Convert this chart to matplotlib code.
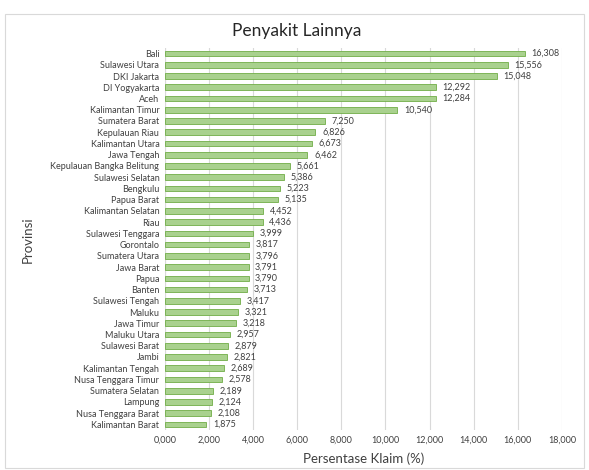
import matplotlib.pyplot as plt
from matplotlib.patches import Rectangle

plt.rcParams['font.family'] = ['Lato', 'DejaVu Sans']

provinsi = ['Bali', 'Sulawesi Utara', 'DKI Jakarta', 'DI Yogyakarta', 'Aceh',
            'Kalimantan Timur', 'Sumatera Barat', 'Kepulauan Riau', 'Kalimantan Utara',
            'Jawa Tengah', 'Kepulauan Bangka Belitung', 'Sulawesi Selatan', 'Bengkulu',
            'Papua Barat', 'Kalimantan Selatan', 'Riau', 'Sulawesi Tenggara', 'Gorontalo',
            'Sumatera Utara', 'Jawa Barat', 'Papua', 'Banten', 'Sulawesi Tengah', 'Maluku',
            'Jawa Timur', 'Maluku Utara', 'Sulawesi Barat', 'Jambi', 'Kalimantan Tengah',
            'Nusa Tenggara Timur', 'Sumatera Selatan', 'Lampung', 'Nusa Tenggara Barat',
            'Kalimantan Barat']
klaim = [16.308, 15.556, 15.048, 12.292, 12.284, 10.540, 7.250, 6.826, 6.673, 6.462,
         5.661, 5.386, 5.223, 5.135, 4.452, 4.436, 3.999, 3.817, 3.796, 3.791, 3.790,
         3.713, 3.417, 3.321, 3.218, 2.957, 2.879, 2.821, 2.689, 2.578, 2.189, 2.124,
         2.108, 1.875]
x_ticks = [0, 2, 4, 6, 8, 10, 12, 14, 16, 18]


def koma(v):
    return '{:.3f}'.format(v).replace('.', ',')


fig = plt.figure(figsize=(5.89, 4.70), dpi=100)
# bingkai luar
fig.patches.append(Rectangle((0.008, 0.005), 0.984, 0.965, transform=fig.transFigure,
                             fill=False, edgecolor='#d9d9d9', linewidth=0.8))
ax = fig.add_axes([0.280, 0.085, 0.674, 0.813])

y = list(range(len(provinsi)))
ax.barh(y, klaim, height=0.5, color='#a9d18e', edgecolor='#70ad47', linewidth=0.6, zorder=3)
for yi, v in zip(y, klaim):
    ax.text(v + 0.3, yi, koma(v), va='center', ha='left', fontsize=6.5, color='#404040')

ax.set_yticks(y)
ax.set_yticklabels(provinsi, fontsize=6.5, color='#404040')
ax.set_ylim(len(provinsi) - 0.5, -0.5)
ax.set_xlim(0, 18)
ax.set_xticks(x_ticks)
ax.set_xticklabels([koma(t) for t in x_ticks], fontsize=6.5, color='#404040')
ax.tick_params(length=0, pad=4)
ax.grid(axis='x', color='#d9d9d9', linewidth=0.8, zorder=0)
for s in ax.spines.values():
    s.set_visible(False)
ax.axvline(0, color='#d9d9d9', linewidth=0.8, zorder=1)

ax.set_xlabel('Persentase Klaim (%)', fontsize=9.5, color='#404040', labelpad=6)
fig.text(0.047, 0.49, 'Provinsi', rotation=90, fontsize=9.5, color='#404040',
         ha='center', va='center')
fig.text(0.503, 0.935, 'Penyakit Lainnya', fontsize=12.5, color='#262626',
         ha='center', va='center')

plt.savefig('out.png', dpi=100)
